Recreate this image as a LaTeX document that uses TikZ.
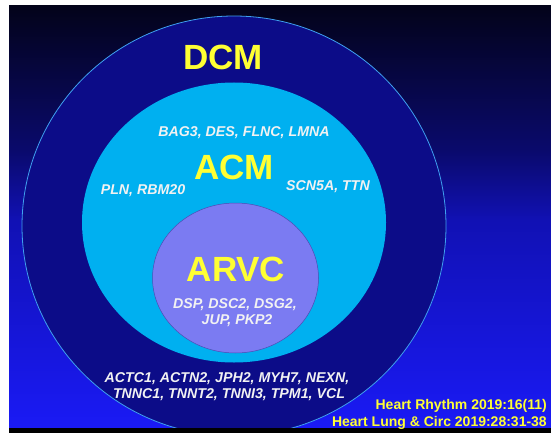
\documentclass[tikz,border=0pt]{standalone}
\usepackage{fontspec}
\setmainfont{Liberation Sans}
\usepackage{tikz}
\usetikzlibrary{positioning,calc}
\definecolor{bgtop}   {HTML}{03031A}
\definecolor{bgupper} {HTML}{0A0A6C}
\definecolor{bgmid}   {HTML}{1111B4}
\definecolor{bgbot}   {HTML}{1A1AF5}
\definecolor{dcmfill} {HTML}{0C0C88}
\definecolor{dcmline} {HTML}{3FA0F0}
\definecolor{acmfill} {HTML}{00B0F0}
\definecolor{arvcfill}{HTML}{7B7BF2}
\definecolor{arvcline}{HTML}{4C4CB4}
\definecolor{hilite}  {HTML}{FFFF33}
\definecolor{genes}   {HTML}{F2F2F2}
% slide background, bottom (25bp) to top (75bp)
\pgfdeclareverticalshading{slidebg}{100bp}{color(0bp)=(bgbot); color(25bp)=(bgbot);
  color(49.6bp)=(bgmid); color(57.9bp)=(bgupper); color(75bp)=(bgtop); color(100bp)=(bgtop)}
\tikzset{
  % --- nodes
  big/.style   = {font=\fontsize{35}{35}\selectfont\bfseries, text=hilite, inner sep=0pt, anchor=base},
  gene/.style  = {font=\fontsize{14.2}{17}\selectfont\bfseries\itshape, text=genes, inner sep=0pt, anchor=base},
  cite/.style  = {font=\fontsize{14}{17}\selectfont\bfseries, text=hilite, inner sep=0pt, anchor=base east},
  % --- rings
  ring/.style  = {line width=0.8pt},
}

\begin{document}
\begin{tikzpicture}[x=1pt,y=-1pt]
  \useasboundingbox (0,0) rectangle (551,433);
  \fill[white] (0,0) rectangle (551,433);
  \shade[shading=slidebg] (9,6) rectangle (551,428);
  \begin{scope}
    \clip (9,6) rectangle (551,428);
    \filldraw[ring, fill=dcmfill, draw=dcmline] (234,226) ellipse [x radius=212, y radius=210];
    \fill[acmfill] (234,222.5) ellipse [x radius=152, y radius=140];
    \filldraw[ring, fill=arvcfill, draw=arvcline, line width=0.5pt] (235.5,278) ellipse [x radius=83, y radius=75];
  \end{scope}
  \fill[black] (9,428) rectangle (551,433);

  \node[big] (dcm)  at (223,70)  {DCM};
  \node[big] (acm)  at (234,179) {ACM};
  \node[big] (arvc) at (236,281) {ARVC};

  \node[gene] (acm1)  at (244,136) {BAG3, DES, FLNC, LMNA};
  \node[gene] (acm2)  at (143,194) {PLN, RBM20};
  \node[gene] (acm3)  at (328,190) {SCN5A, TTN};
  \node[gene] (arvc1) at (235,308) {DSP, DSC2, DSG2,};
  \node[gene] (arvc2) at (237,324) {JUP, PKP2};
  \node[gene] (dcm1)  at (227,382) {ACTC1, ACTN2, JPH2, MYH7, NEXN,};
  \node[gene] (dcm2)  at (229,398) {TNNC1, TNNT2, TNNI3, TPM1, VCL};

  \node[cite] (ref1) at (547,409) {Heart Rhythm 2019:16(11)};
  \node[cite] (ref2) at (547,426) {Heart Lung \& Circ 2019:28:31-38};
\end{tikzpicture}
\end{document}
